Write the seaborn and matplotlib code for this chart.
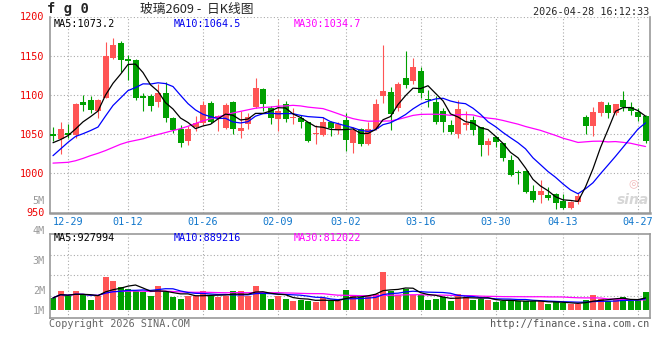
import numpy as np
import pandas as pd
import matplotlib
matplotlib.use("Agg")
import matplotlib.pyplot as plt
import seaborn as sns

# 玻璃2609 日K, 12-25 ~ 04-28
opens = [1050, 1044, 1051, 1048.5, 1091.5, 1094, 1079, 1096.5, 1147.5, 1166,
         1145.5, 1144.5, 1099, 1099, 1091, 1103, 1070.5, 1057, 1041.5, 1059,
         1064, 1090, 1070, 1058, 1090.5, 1053.5, 1063.5, 1084, 1108, 1083,
         1069.5, 1088, 1070.5, 1070.5, 1065, 1050.5, 1049, 1066, 1055, 1068,
         1039, 1056, 1038, 1056.5, 1099, 1103.5, 1083, 1121.5, 1118, 1131,
         1094.5, 1091.5, 1080, 1061.5, 1050, 1061, 1068, 1058.5, 1036.5, 1046,
         1038.5, 1017, 1002, 1002.5, 977.5, 972, 972, 973, 964.5, 956,
         963, 1071.5, 1060.5, 1077.5, 1086.5, 1076.5, 1094, 1085, 1078.5, 1073.5]
closes = [1047.5, 1057, 1048.5, 1088, 1087, 1080.5, 1093, 1150, 1163.5, 1144.5,
          1143, 1095.5, 1096, 1085.5, 1103, 1070.5, 1055, 1038.5, 1057, 1064,
          1087.5, 1065.5, 1073, 1087.5, 1056.5, 1057.5, 1071.5, 1109, 1088, 1071,
          1079, 1069.5, 1071, 1065.5, 1041, 1051, 1065, 1057.5, 1063, 1042.5,
          1055, 1037, 1056.5, 1088, 1105, 1075.5, 1113.5, 1113, 1136, 1102,
          1094, 1065, 1065, 1053, 1082, 1064.5, 1055.5, 1035.5, 1041, 1039.5,
          1019.5, 998, 1001, 976, 966.5, 977.5, 968, 962.5, 956, 963,
          971, 1060.5, 1078.5, 1091.5, 1076.5, 1088.5, 1084, 1079, 1071.5, 1041.5]
highs = [1059, 1066, 1063, 1090, 1100.5, 1098, 1094.5, 1167.5, 1172, 1169,
         1151, 1146, 1103, 1101.5, 1114.5, 1116.5, 1072, 1061.5, 1060, 1073,
         1092, 1092, 1075, 1089.5, 1092.5, 1080, 1077, 1121, 1109, 1085.5,
         1095, 1092, 1083, 1074.5, 1065.5, 1062, 1072, 1067, 1065, 1076.5,
         1059.5, 1057.5, 1066, 1094.5, 1164, 1109.5, 1116, 1156, 1146.5, 1135,
         1106.5, 1099, 1083, 1068.5, 1094, 1079, 1073.5, 1059, 1044.5, 1047,
         1039, 1023.5, 1004.5, 1004.5, 984.5, 991.5, 983, 975, 973, 964.5,
         975, 1074.5, 1084, 1092.5, 1090.5, 1088.5, 1104.5, 1090.5, 1083, 1074.5]
lows = [1041, 1025, 1045, 1045.5, 1079, 1076.5, 1071, 1095.5, 1146, 1129.5,
        1119, 1094, 1080, 1080, 1084.5, 1065.5, 1052, 1034, 1036, 1053.5,
        1062, 1064, 1053.5, 1057, 1049.5, 1045, 1057, 1083.5, 1079, 1063.5,
        1053.5, 1065.5, 1062.5, 1057.5, 1040, 1037, 1048, 1048, 1050, 1028.5,
        1026.5, 1035, 1036, 1055, 1090, 1055.5, 1080, 1108.5, 1114, 1095.5,
        1084, 1063, 1052.5, 1050, 1044.5, 1055.5, 1049, 1022.5, 1023.5, 1033,
        1016, 996, 986.5, 975, 963, 961.5, 966.5, 954.5, 954, 955,
        961, 1050, 1047, 1072.5, 1070, 1074.5, 1079, 1075, 1067, 1038.5]
volumes = [955, 1471, 1084, 1471, 1213, 826, 1084, 2554, 2296, 1780,
           1651, 1522, 1393, 1084, 1858, 1522, 1006, 903, 1084, 1135,
           1522, 1135, 1006, 1135, 1471, 1522, 1084, 1858, 1264, 903,
           1135, 903, 748, 826, 748, 645, 955, 697, 697, 1548,
           1213, 1032, 1135, 1290, 2941, 1522, 1213, 1677, 1213, 1213,
           826, 903, 1006, 697, 1290, 1006, 826, 903, 826, 619,
           697, 826, 697, 697, 697, 697, 516, 645, 568, 490,
           490, 774, 1213, 903, 748, 826, 1006, 748, 826, 1393]  # 千手

# 均线开头几天（前面的数据不在图里，从图上读）
ma5_head = [1039, 1043, 1048, 1056.5]
ma10_head = [1022.5, 1031, 1039.5, 1047, 1050.5, 1054.5, 1059, 1073, 1086.5]
ma30_head = [1013, 1013.5, 1014, 1016, 1019, 1022.5, 1025.5, 1029, 1033, 1037,
             1040, 1042, 1044, 1047, 1049.5, 1052, 1054.5, 1057, 1060, 1063.5,
             1067, 1069.5, 1072, 1074.5, 1077, 1079, 1081, 1083, 1084]

tick_idx = [2, 10, 20, 30, 39, 49, 59, 68, 78]
tick_labels = ["12-29", "01-12", "01-26", "02-09", "03-02", "03-16", "03-30", "04-13", "04-27"]

RED = "#ff5555"
GREEN = "#00a000"
GRID = "#aaaaaa"
EDGE = "#999999"

df = pd.DataFrame({"open": opens, "close": closes, "high": highs, "low": lows,
                   "vol": np.array(volumes) * 1000})
df["i"] = range(len(df))
df["dir"] = np.where(df.close >= df.open, "up", "down")


def with_head(s, head):
    s = s.copy()
    s.iloc[:len(head)] = head
    return s


c = df["close"]
df["ma5"] = with_head(c.rolling(5).mean(), ma5_head)
df["ma10"] = with_head(c.rolling(10).mean(), ma10_head)
df["ma30"] = with_head(c.rolling(30).mean(), ma30_head)
df["vma5"] = df.vol.rolling(5, min_periods=1).mean()
df["vma10"] = df.vol.rolling(10, min_periods=1).mean()
df["vma30"] = df.vol.rolling(30, min_periods=1).mean()

sns.set_theme(style="white")
plt.rcParams["font.family"] = ["DejaVu Sans Mono", "Noto Sans CJK SC"]
plt.rcParams["axes.unicode_minus"] = False

W, H = 660, 360
fig = plt.figure(figsize=(6.6, 3.6), dpi=100)
fig.patch.set_facecolor("white")

ax = fig.add_axes([50 / W, 1 - 212.5 / H, 600 / W, (212.5 - 16.5) / H])
axv = fig.add_axes([50 / W, 1 - 318 / H, 600 / W, (318 - 234) / H])

colors = np.where(df.dir == "up", RED, GREEN)

# K线
ax.vlines(df.i, df.low, df.high, colors=colors, lw=0.8, zorder=2)
body = (df.close - df.open).abs().clip(lower=0.8)
ax.bar(df.i, body, bottom=df[["open", "close"]].min(axis=1), width=0.8,
       color=colors, lw=0, zorder=3)
sns.lineplot(data=df, x="i", y="ma30", ax=ax, color="#ff00ff", lw=0.9, zorder=4)
sns.lineplot(data=df, x="i", y="ma10", ax=ax, color="#0000ff", lw=0.9, zorder=4)
sns.lineplot(data=df, x="i", y="ma5", ax=ax, color="black", lw=0.9, zorder=4)

# 成交量
axv.bar(df.i, df.vol, width=0.8, color=colors, lw=0, zorder=2)
sns.lineplot(data=df, x="i", y="vma30", ax=axv, color="#ff00ff", lw=0.9, zorder=4)
sns.lineplot(data=df, x="i", y="vma10", ax=axv, color="#0000ff", lw=0.9, zorder=4)
sns.lineplot(data=df, x="i", y="vma5", ax=axv, color="black", lw=0.9, zorder=4)

for a in (ax, axv):
    a.set_xlim(-0.4, 79.6)
    a.set_xlabel("")
    a.set_ylabel("")
    a.set_xticks(tick_idx)
    a.set_axisbelow(True)
    a.grid(True, color=GRID, lw=0.8, ls=(0, (1, 2)))
    a.tick_params(length=0)
    for s in a.spines.values():
        s.set_color(EDGE)
        s.set_linewidth(1.2)

ax.set_ylim(950, 1200)
ax.set_yticks([950, 1000, 1050, 1100, 1150, 1200])
ax.tick_params(axis="y", labelcolor="#ee0000", labelsize=7.3, pad=4)
ax.set_xticklabels(tick_labels)
ax.tick_params(axis="x", labelcolor="#1177cc", labelsize=7.3, pad=3.5)
ax.spines["top"].set_visible(False)
ax.spines["bottom"].set_linewidth(1.8)

axv.set_ylim(-593e3, 5908e3)
axv.set_yticks([1.135e6, 2.76e6, 4.31e6])
axv.set_yticklabels([])
axv.set_xticklabels([])


# 文字
def ftext(x, y, s, **kw):
    kw.setdefault("va", "center")
    kw.setdefault("fontsize", 7.3)
    fig.text(x / W, 1 - y / H, s, **kw)


ftext(47, 9, "f g 0", fontsize=10, fontweight="bold")
ftext(140, 9, "玻璃2609 -  日K线图", fontsize=9.2,
      family=["Noto Sans CJK SC", "DejaVu Sans"])
ftext(649, 12, "2026-04-28 16:12:33", ha="right")

ftext(54, 24, "MA5:1073.2", color="black")
ftext(174, 24, "MA10:1064.5", color="#0000ee")
ftext(294, 24, "MA30:1034.7", color="#ff00ff")
ftext(54, 238, "MA5:927994", color="black")
ftext(174, 238, "MA10:889216", color="#0000ee")
ftext(294, 238, "MA30:812022", color="#ff00ff")

for lab, y in [("5M", 201), ("4M", 231), ("3M", 261), ("2M", 291), ("1M", 311)]:
    ftext(45, y, lab, ha="right", color=EDGE)

ftext(49, 324, "Copyright 2026 SINA.COM", color="#666666")
ftext(649, 324, "http://finance.sina.com.cn", ha="right", color="#555555")

# 水印
ftext(633, 183, "◎", ha="center", fontsize=8, color="#f2b8b8",
      family=["DejaVu Sans"])
ftext(633, 200, "sina", ha="center", fontsize=10, fontweight="bold",
      style="italic", color="#d6d6d6", family=["DejaVu Sans"])

fig.savefig("out.png", dpi=100)
